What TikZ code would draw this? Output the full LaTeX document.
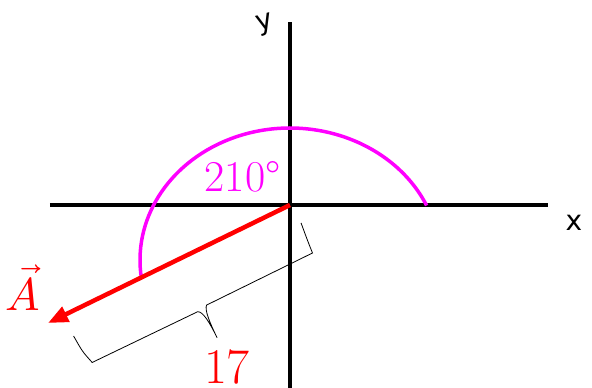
\documentclass[tikz,border=0pt]{standalone}
\usepackage{fontspec}
\usepackage{unicode-math}
\newfontfamily\axisfont{DejaVu Sans}
\usetikzlibrary{arrows.meta}
\usepackage{xcolor}
\definecolor{vecred}{RGB}{255,0,0}
\definecolor{angmagenta}{RGB}{255,0,255}

\begin{document}
\begin{tikzpicture}[
    x=1pt, y=1pt,
    axis/.style={line width=4pt, black},
    vec/.style={-{Triangle[length=20pt, width=16pt]}, line width=4.5pt, vecred},
    angarc/.style={line width=3.5pt, angmagenta},
    bracket/.style={line width=0.8pt, black},
    axislabel/.style={font=\axisfont\fontsize{28}{28}\selectfont, inner sep=0pt}
  ]
    \useasboundingbox (-290,-183) rectangle (302,205);
    \coordinate (O) at (0,0);
    \coordinate (xleft) at (-240,0);
    \coordinate (xright) at (258,0);
    \coordinate (ytop) at (0,183);
    \coordinate (ybottom) at (0,-190);
    \coordinate (Atip) at (-242,-118);
    \coordinate (arcstart) at (136.6,-0.5);
    \draw[axis] (xleft) -- (xright);
    \draw[axis] (ybottom) -- (ytop);
    \node[axislabel] (xlabel) at (284,-18) {x};
    \node[axislabel, rotate=15] (ylabel) at (-25,180) {y};
    \draw[angarc] (arcstart) arc[start angle=24.4, end angle=188, x radius=150, y radius=132];
    \draw[vec] (O) -- (Atip);
    \node[text=angmagenta, font=\fontsize{44}{44}\selectfont, anchor=base] (anglelabel) at (-47.5,13) {210\textdegree};
    \node[text=vecred, font=\fontsize{46}{46}\selectfont, anchor=base] (Alabel) at (-267,-105) {$\vec{A}$};
    \node[text=vecred, font=\fontsize{50}{50}\selectfont, anchor=base] (length) at (-63,-178) {17};
    \begin{scope}[rotate=206.19]
      \draw[bracket] (252,22) .. controls (251,40) .. (247,54) -- (130,55)
        .. controls (125,57) and (124,70) .. (124,87)
        .. controls (124,70) and (123,56) .. (119,53) -- (1,53) .. controls (0,40) .. (-2,21);
    \end{scope}
  \end{tikzpicture}
\end{document}
